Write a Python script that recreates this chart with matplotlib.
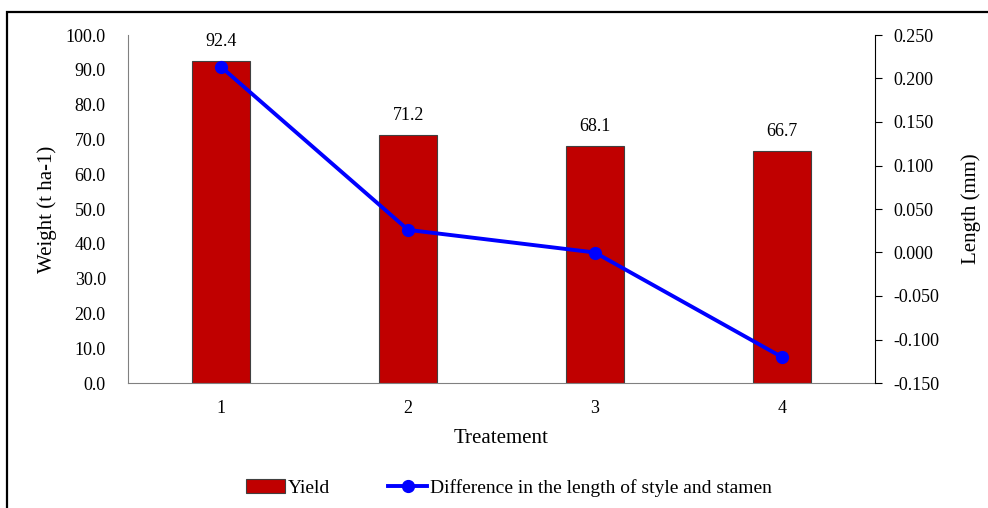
import matplotlib
matplotlib.use('Agg')
import matplotlib.pyplot as plt
from matplotlib.patches import Rectangle
import numpy as np

plt.rcParams['font.family'] = ['Liberation Serif', 'DejaVu Serif']

treatments = ['1', '2', '3', '4']
yield_values = [92.4, 71.2, 68.1, 66.7]
length_diff = [0.213, 0.026, 0.000, -0.120]

fig = plt.figure(figsize=(9.88, 5.08), dpi=100)

# outer frame around the chart area
fig.patches.append(Rectangle((7 / 988, -0.1), 1.2, 1 - 12 / 508 + 0.1,
                             transform=fig.transFigure, fill=False,
                             edgecolor='black', linewidth=1.6, zorder=0))

ax = fig.add_axes([128 / 988, 1 - 383 / 508, (875 - 128) / 988, (383 - 35) / 508])
x = np.arange(len(treatments))
bars = ax.bar(x, yield_values, width=0.31, color='#C00000',
              edgecolor='#404040', linewidth=0.8, label='Yield', zorder=2)
for xi, v in zip(x, yield_values):
    ax.annotate('%.1f' % v, (xi, v), xytext=(0, 8), textcoords='offset points',
                ha='center', va='bottom', fontsize=13)

ax.set_xlim(-0.5, len(treatments) - 0.5)
ax.set_ylim(0, 100)
ax.set_yticks(np.arange(0, 101, 10))
ax.set_yticklabels(['%.1f' % t for t in np.arange(0, 101, 10)], fontsize=13)
ax.set_xticks(x)
ax.set_xticklabels(treatments, fontsize=13)
ax.tick_params(axis='y', length=0, pad=16)
ax.tick_params(axis='x', length=0, pad=12)
ax.set_ylabel('Weight (t ha-1)', fontsize=15, labelpad=6)
ax.set_xlabel('Treatement', fontsize=15, labelpad=9)
for s in ['top', 'right']:
    ax.spines[s].set_visible(False)
for s in ['left', 'bottom']:
    ax.spines[s].set_color('#808080')

ax2 = ax.twinx()
line, = ax2.plot(x, length_diff, color='#0000FF', linewidth=2.8, marker='o',
                 markersize=8.5, label='Difference in the length of style and stamen', zorder=3)
ax2.set_ylim(-0.15, 0.25)
rticks = np.arange(-0.15, 0.2501, 0.05)
ax2.set_yticks(rticks)
ax2.set_yticklabels(['%.3f' % (0 if abs(t) < 1e-9 else t) for t in rticks], fontsize=13)
ax2.tick_params(axis='y', length=5, width=0.8, pad=8)
ax2.set_ylabel('Length (mm)', fontsize=15, labelpad=16)
for s in ['top', 'left', 'bottom']:
    ax2.spines[s].set_visible(False)
ax2.spines['right'].set_color('black')
ax2.spines['right'].set_linewidth(0.8)

fig.legend([bars, line], ['Yield', 'Difference in the length of style and stamen'],
           loc='center', bbox_to_anchor=(0.515, 1 - 488 / 508), ncol=2, frameon=False,
           fontsize=14, handlelength=2.0, handletextpad=0.15, columnspacing=3.0)

fig.savefig('out.png', dpi=100)
